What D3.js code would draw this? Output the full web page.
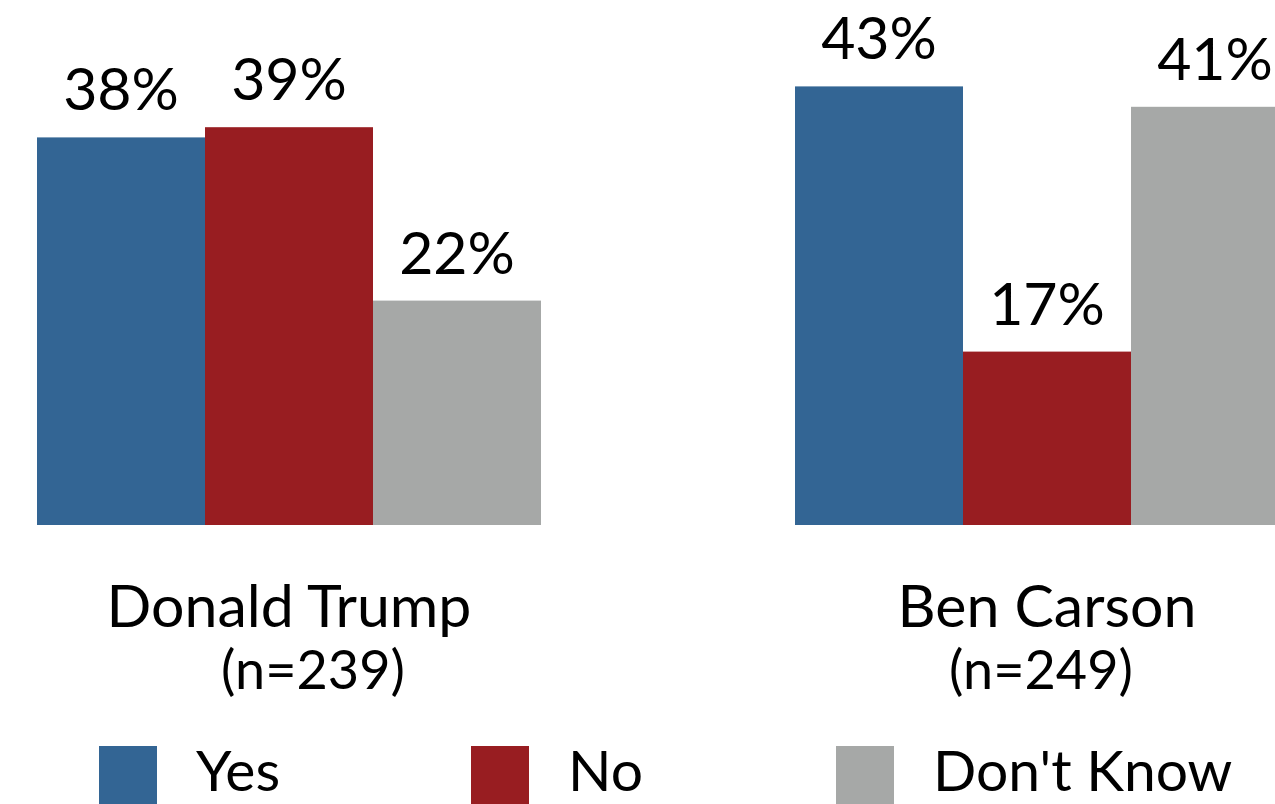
<!DOCTYPE html>
<html>
<head>
<meta charset="utf-8">
<script src="https://cdn.jsdelivr.net/npm/d3@7"></script>
<style>
  html, body { margin: 0; padding: 0; background: #fff; }
  svg { display: block; }
  text { font-family: Lato, "Noto Sans", sans-serif; fill: #000; }
</style>
</head>
<body>
<svg id="chart" width="1275" height="804"></svg>
<script>
// ---- data ----
const candidates = ["Donald Trump", "Ben Carson"];
const sampleSizes = ["(n=239)", "(n=249)"];
const responses = ["Yes", "No", "Don't Know"];
const yesValues = [38, 43];
const noValues = [39, 17];
const dontKnowValues = [22, 41];
const colors = ["#336594", "#981d21", "#a6a8a7"];

// ---- layout ----
const svg = d3.select("#chart");
const FS = 59;
const nLabelShift = [24, -6];

const seriesValues = [yesValues, noValues, dontKnowValues];
const rows = candidates.map((c, i) => ({
  candidate: c,
  n: sampleSizes[i],
  shift: nLabelShift[i],
  values: responses.map((r, j) => ({ key: r, value: seriesValues[j][i] }))
}));

const x0 = d3.scaleBand().domain(candidates).range([37, 1299]).paddingInner(254 / 758).paddingOuter(0);
const x1 = d3.scaleBand().domain(responses).range([0, x0.bandwidth()]).padding(0);
const y = d3.scaleLinear().domain([0, 50]).range([525, 15]);
const color = d3.scaleOrdinal().domain(responses).range(colors);

const groups = svg.selectAll("g.group").data(rows).join("g")
  .attr("class", "group")
  .attr("transform", d => `translate(${x0(d.candidate)},0)`);

groups.selectAll("rect").data(d => d.values).join("rect")
  .attr("x", d => x1(d.key))
  .attr("width", x1.bandwidth())
  .attr("y", d => y(d.value))
  .attr("height", d => y(0) - y(d.value))
  .attr("fill", d => color(d.key));

groups.selectAll("text.val").data(d => d.values).join("text")
  .attr("class", "val")
  .attr("x", d => x1(d.key) + x1.bandwidth() / 2)
  .attr("y", d => y(d.value) - 27)
  .attr("text-anchor", "middle")
  .attr("font-size", FS)
  .text(d => d.value + "%");

groups.append("text")
  .attr("x", x0.bandwidth() / 2)
  .attr("y", 627)
  .attr("text-anchor", "middle")
  .attr("font-size", FS)
  .text(d => d.candidate);

groups.append("text")
  .attr("x", d => x0.bandwidth() / 2 + d.shift)
  .attr("y", 689)
  .attr("text-anchor", "middle")
  .attr("font-size", 54)
  .text(d => d.n);

// ---- legend ----
const legendX = [99, 471, 836];
const legend = svg.selectAll("g.legend").data(responses).join("g")
  .attr("class", "legend")
  .attr("transform", (d, i) => `translate(${legendX[i]},746)`);
legend.append("rect")
  .attr("width", 58).attr("height", 58)
  .attr("fill", d => color(d));
legend.append("text")
  .attr("x", 97).attr("y", 45)
  .attr("font-size", 57)
  .text(d => d);
</script>
</body>
</html>
